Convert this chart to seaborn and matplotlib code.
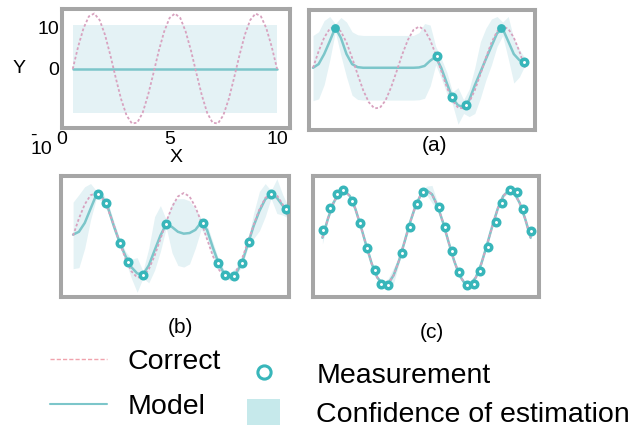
import seaborn as sns
import matplotlib.pyplot as plt
from matplotlib.lines import Line2D
from matplotlib.patches import Patch

# Grid of x positions shared by the curves
x_grid = [0.5, 0.75, 1.0, 1.25, 1.5, 1.75, 2.0, 2.25, 2.5, 2.75,
          3.0, 3.25, 3.5, 3.75, 4.0, 4.25, 4.5, 4.75, 5.0, 5.25,
          5.5, 5.75, 6.0, 6.25, 6.5, 6.75, 7.0, 7.25, 7.5, 7.75,
          8.0, 8.25, 8.5, 8.75, 9.0, 9.25, 9.5, 9.75, 10.0]

# Correct function (same in all panels)
correct = [0.0, 5.4, 9.9, 12.8, 13.5, 11.9, 8.3, 3.3, -2.2, -7.4,
           -11.3, -13.3, -13.1, -10.7, -6.4, -1.1, 4.4, 9.1, 12.4, 13.5,
           12.4, 9.1, 4.4, -1.1, -6.4, -10.7, -13.1, -13.3, -11.3, -7.4,
           -2.2, 3.3, 8.3, 11.9, 13.5, 12.8, 9.9, 5.4, 0.0]

# Prior (no measurements)
prior_x = [0.5, 10.0]
prior_mean = [0.0, 0.0]
prior_lo = [-10.8, -10.8]
prior_hi = [10.8, 10.8]

# Panel (a)
mean_a = [0.0, 1.2, 4.5, 8.7, 13.2, 9.8, 4.5, 1.2, 0.2, 0.0,
          0.0, 0.0, 0.0, 0.0, 0.0, 0.0, 0.0, 0.0, 0.0, 0.1,
          0.6, 2.3, 3.6, -0.1, -5.1, -10.0, -12.3, -12.9, -10.6, -5.8,
          -1.5, 2.9, 7.1, 11.3, 12.8, 8.7, 4.5, 2.5, 2.0]
lo_a = [-10.8, -10.2, -5.5, 2.5, 11.8, 4.0, -3.0, -9.0, -10.4, -10.6,
        -10.6, -10.6, -10.6, -10.6, -10.6, -10.6, -10.6, -10.6, -10.6, -10.5,
        -10.0, -6.0, 1.0, -3.5, -8.5, -12.0, -18.5, -15.0, -16.0, -15.0,
        -10.0, -4.0, 1.0, 7.0, 10.5, 3.0, -5.0, -3.0, 0.8]
hi_a = [10.6, 11.8, 15.5, 16.8, 14.4, 16.5, 15.0, 11.8, 10.8, 10.6,
        10.6, 10.6, 10.6, 10.6, 10.6, 10.6, 10.6, 10.6, 10.6, 11.5,
        14.5, 14.0, 7.0, 3.0, -1.5, -8.0, -6.5, -10.5, -7.0, 0.0,
        8.5, 13.0, 16.0, 16.8, 15.0, 16.8, 9.5, 6.0, 3.2]
meas_a_x = [1.5, 6.05, 6.72, 7.36, 8.93, 9.96]
meas_a_y = [13.2, 3.9, -9.6, -12.2, 12.9, 2.0]
meas_a_filled = [True, False, False, False, True, False]

# Panel (b)
mean_b = [0.3, 1.2, 4.0, 8.5, 13.0, 12.3, 8.8, 3.0, -2.2, -6.5,
          -10.0, -12.0, -12.4, -9.5, -4.7, 0.0, 3.7, 2.7, 1.2, 0.6,
          0.8, 1.8, 4.2, 1.8, -3.8, -8.8, -12.3, -13.0, -12.0, -8.6,
          -2.8, 3.0, 7.8, 11.5, 13.0, 12.0, 9.5, 7.0, 4.0]
lo_b = [-10.5, -10.2, -4.0, 5.0, 11.8, 10.8, 7.3, 1.5, -3.5, -8.0,
        -13.5, -18.0, -13.5, -15.0, -11.0, -5.0, 2.5, -5.5, -9.5, -10.0,
        -9.0, -4.0, 2.0, -1.0, -7.0, -10.0, -13.4, -14.3, -12.8, -9.7,
        -4.0, -1.0, 1.5, 6.0, 11.8, 7.0, 6.5, 5.5, 2.0]
hi_b = [10.6, 13.0, 15.5, 16.5, 14.2, 13.8, 10.3, 4.5, -1.0, -5.0,
        -7.5, -7.0, -11.3, -4.0, 6.0, 9.5, 5.0, 10.5, 11.7, 11.7,
        11.0, 8.5, 5.5, 3.5, -2.0, -7.6, -11.2, -11.7, -10.2, -7.5,
        -1.6, 7.0, 14.0, 16.5, 14.2, 18.0, 13.0, 9.0, 6.0]
meas_b_x = [1.56, 1.92, 2.52, 2.87, 3.52, 4.48, 6.09, 6.74, 7.02, 7.4, 7.75, 8.04, 8.98, 9.63]
meas_b_y = [13.1, 10.3, -2.4, -8.4, -12.4, 3.6, 4.0, -8.7, -12.4, -12.9, -8.6, -2.1, 13.1, 8.5]

# Panel (c): model follows the correct curve, small spread
spread_c = [1.8, 0.6, 0.5, 0.5, 0.5, 0.5, 0.5, 0.5, 0.5, 0.5,
            0.5, 0.6, 1.5, 2.2, 0.8, 0.5, 0.5, 0.5, 0.5, 1.2,
            2.5, 1.0, 0.5, 0.5, 0.5, 0.5, 0.5, 0.5, 0.5, 0.5,
            0.5, 0.5, 0.5, 0.5, 0.5, 0.5, 0.5, 0.5, 0.6]
meas_c_x = [0.53, 0.83, 1.17, 1.46, 1.84, 2.2, 2.54, 2.88, 3.18, 3.5,
            4.14, 4.49, 4.8, 5.11, 5.81, 6.09, 6.41, 6.75, 7.08, 7.43,
            7.71, 8.04, 8.42, 8.7, 9.05, 9.37, 9.66, 10.02]
meas_c_y = [2.1, 8.4, 12.6, 13.5, 10.5, 4.3, -2.9, -9.3, -13.1, -13.5,
            -4.3, 3.1, 9.5, 13.1, 8.9, 3.1, -3.8, -9.8, -13.5, -13.1,
            -9.6, -2.6, 4.6, 10.0, 13.5, 12.9, 8.2, 1.9]

sns.set_style('white')
plt.rcParams['font.family'] = ['Liberation Sans', 'DejaVu Sans']
plt.rcParams['text.color'] = 'black'
plt.rcParams['axes.labelcolor'] = 'black'
plt.rcParams['xtick.color'] = 'black'
plt.rcParams['ytick.color'] = 'black'

correct_color = '#d8a2bf'
model_color = '#7cc6ca'
band_color = '#e4f2f5'
point_color = '#38b6ba'
frame_color = '#a6a6a6'

fig = plt.figure(figsize=(6.3, 4.32), dpi=100)


def draw_panel(ax, mx, mean, lo, hi):
    ax.fill_between(mx, lo, hi, color=band_color, lw=0)
    sns.lineplot(x=mx, y=mean, ax=ax, color=model_color, lw=1.8)
    sns.lineplot(x=x_grid, y=correct, ax=ax, color=correct_color, lw=1.3,
                 linestyle=(0, (1.5, 1.2)))
    for s in ax.spines.values():
        s.set_visible(True)
        s.set_color(frame_color)
        s.set_linewidth(2.9)
    ax.set_xlabel('')
    ax.set_ylabel('')


def rings(ax, xs, ys):
    sns.scatterplot(x=xs, y=ys, ax=ax, s=22, color='white', edgecolor=point_color,
                    linewidth=2.5, zorder=5)


# Top left: prior
ax0 = fig.add_axes([0.0984, 0.7037, 0.3619, 0.2755])
draw_panel(ax0, prior_x, prior_mean, prior_lo, prior_hi)
ax0.set_xlim(0, 10.6)
ax0.set_ylim(-14.4, 14.6)
ax0.set_xticks([0, 5, 10])
ax0.set_yticks([10, 0])
ax0.tick_params(length=0, labelsize=14, pad=2)
ax0.set_xlabel('X', fontsize=14, labelpad=1)
ax0.set_ylabel('Y', fontsize=14, rotation=0, labelpad=13, va='center')
ax0.text(-0.14, 0.008, '-\n10', transform=ax0.transAxes, ha='left', va='top',
         fontsize=14, linespacing=0.8, multialignment='left')

# (a)
ax1 = fig.add_axes([0.4905, 0.6991, 0.3587, 0.2778])
draw_panel(ax1, x_grid, mean_a, lo_a, hi_a)
ring_x = [x for x, f in zip(meas_a_x, meas_a_filled) if not f]
ring_y = [y for y, f in zip(meas_a_y, meas_a_filled) if not f]
dot_x = [x for x, f in zip(meas_a_x, meas_a_filled) if f]
dot_y = [y for y, f in zip(meas_a_y, meas_a_filled) if f]
rings(ax1, ring_x, ring_y)
sns.scatterplot(x=dot_x, y=dot_y, ax=ax1, s=40, color=point_color, linewidth=0, zorder=5)
ax1.set_xlim(0.32, 10.45)
ax1.set_ylim(-20.4, 18.95)
ax1.set_xticks([])
ax1.set_yticks([])

# (b)
ax2 = fig.add_axes([0.0968, 0.3125, 0.3619, 0.2801])
draw_panel(ax2, x_grid, mean_b, lo_b, hi_b)
rings(ax2, meas_b_x, meas_b_y)
ax2.set_xlim(-0.02, 9.77)
ax2.set_ylim(-19.5, 18.9)
ax2.set_xticks([])
ax2.set_yticks([])

# (c)
ax3 = fig.add_axes([0.4968, 0.3125, 0.3587, 0.2801])
lo_c = [m - s for m, s in zip(correct, spread_c)]
hi_c = [m + s for m, s in zip(correct, spread_c)]
draw_panel(ax3, x_grid, correct, lo_c, hi_c)
rings(ax3, meas_c_x, meas_c_y)
ax3.set_xlim(0.07, 10.38)
ax3.set_ylim(-16.9, 17.6)
ax3.set_xticks([])
ax3.set_yticks([])

fig.text(0.690, 0.664, '(a)', ha='center', va='center', fontsize=15)
fig.text(0.287, 0.241, '(b)', ha='center', va='center', fontsize=15)
fig.text(0.686, 0.231, '(c)', ha='center', va='center', fontsize=15)

# Legends
h1 = [Line2D([], [], color='#f0a3ad', lw=1, linestyle=(0, (3, 1.5))),
      Line2D([], [], color=model_color, lw=1.5)]
fig.legend(handles=h1, labels=['Correct', 'Model'], loc='upper left',
           bbox_to_anchor=(0.079, 0.192), frameon=False, fontsize=20.5,
           handlelength=2.0, handletextpad=0.73, labelspacing=0.68,
           borderpad=0, borderaxespad=0)
h2 = [Line2D([], [], marker='o', ls='', mfc='white', mec=point_color, ms=9.5, mew=2.2),
      Patch(facecolor='#c6e9eb', edgecolor='none')]
fig.legend(handles=h2, labels=['Measurement', 'Confidence of estimation'], loc='upper left',
           bbox_to_anchor=(0.392, 0.166), frameon=False, fontsize=20.5,
           handlelength=1.17, handleheight=1.0, handletextpad=1.27, labelspacing=0.36,
           borderpad=0, borderaxespad=0)

fig.savefig('out.png', dpi=100)
